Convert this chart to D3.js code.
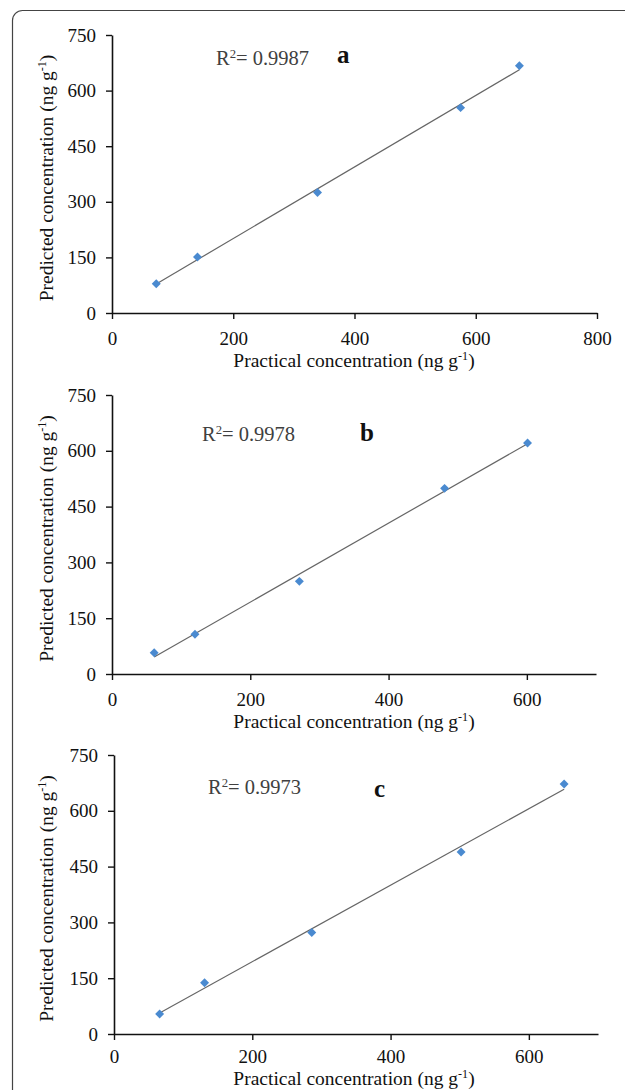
<!DOCTYPE html>
<html>
<head>
<meta charset="utf-8">
<script src="https://cdn.jsdelivr.net/npm/d3@7"></script>
<style>
  body { margin: 0; background: #fff; }
  svg text { font-family: "Liberation Serif", "Tinos", "Times New Roman", "DejaVu Serif", serif !important; }
</style>
</head>
<body>
<div id="chart"></div>
<script>
// values
var practicalA = [73, 141, 339, 575, 672];
var predictedA = [79, 151, 325, 554, 667];
var practicalB = [61, 120, 271, 481, 601];
var predictedB = [57, 107, 249, 499, 621];
var practicalC = [66, 131, 286, 502, 651];
var predictedC = [54, 138, 273, 489, 672];

var yTicks = [0, 150, 300, 450, 600, 750];
var xTicksA = [0, 200, 400, 600, 800];
var xTicksBC = [0, 200, 400, 600];
var r2Labels = ["0.9987", "0.9978", "0.9973"];
var panelLetters = ["a", "b", "c"];

var W = 625, H = 1090;
var serif = '"Liberation Serif", "Times New Roman", serif';

var svg = d3.select("#chart").append("svg")
  .attr("width", W)
  .attr("height", H);

// frame (rounded top-left corner, runs off right and bottom)
svg.append("rect")
  .attr("x", 12.5).attr("y", 10.5)
  .attr("width", 700).attr("height", 1200)
  .attr("rx", 10)
  .attr("fill", "none")
  .attr("stroke", "#444")
  .attr("stroke-width", 1.2);

var panels = [
  {xs: practicalA, ys: predictedA, xMax: 800, xTicks: xTicksA, left: 112, right: 597, top: 35, bottom: 313,
   r2x: 216, r2y: 65, lx: 337, ly: 63, tY: 54, pad: 13},
  {xs: practicalB, ys: predictedB, xMax: 700, xTicks: xTicksBC, left: 112, right: 596, top: 395, bottom: 674,
   r2x: 202, r2y: 441, lx: 360, ly: 441, tY: 54, pad: 13},
  {xs: practicalC, ys: predictedC, xMax: 700, xTicks: xTicksBC, left: 114, right: 598, top: 755, bottom: 1034,
   r2x: 208, r2y: 794, lx: 374, ly: 797, tY: 51, pad: 10}
];

function supLabel(sel, before, sup, after) {
  sel.append("tspan").text(before);
  sel.append("tspan").attr("font-size", "0.62em").attr("dy", "-0.55em").text(sup);
  sel.append("tspan").attr("dy", "0.34em").text(after);
}

function fit(xs, ys) {
  var mx = d3.mean(xs), my = d3.mean(ys);
  var sxy = d3.sum(xs, function(x, i){ return (x - mx) * (ys[i] - my); });
  var sxx = d3.sum(xs, function(x){ return (x - mx) * (x - mx); });
  var b = sxy / sxx;
  return {b: b, a: my - b * mx};
}

panels.forEach(function(p, k) {
  var x = d3.scaleLinear().domain([0, p.xMax]).range([p.left, p.right]);
  var y = d3.scaleLinear().domain([0, 750]).range([p.bottom, p.top]);
  var g = svg.append("g");

  var yAxis = g.append("g")
    .attr("transform", "translate(" + p.left + ",0)")
    .call(d3.axisLeft(y).tickValues(yTicks).tickSize(6).tickPadding(10).tickSizeOuter(0));
  var xAxis = g.append("g")
    .attr("transform", "translate(0," + p.bottom + ")")
    .call(d3.axisBottom(x).tickValues(p.xTicks).tickSize(6).tickPadding(p.pad).tickSizeOuter(0));

  [yAxis, xAxis].forEach(function(a) {
    a.attr("font-family", null).attr("font-size", null);
    a.select(".domain").attr("stroke", "#111").attr("stroke-width", 1.6);
    a.selectAll(".tick line").attr("stroke", "#111").attr("stroke-width", 1.4);
    a.selectAll(".tick text")
      .style("font-family", serif)
      .style("font-size", "19px").attr("fill", "#111");
  });

  // trend line
  var f = fit(p.xs, p.ys);
  var x0 = d3.min(p.xs), x1 = d3.max(p.xs);
  g.append("line")
    .attr("x1", x(x0)).attr("y1", y(f.a + f.b * x0))
    .attr("x2", x(x1)).attr("y2", y(f.a + f.b * x1))
    .attr("stroke", "#666").attr("stroke-width", 1.2);

  // markers
  g.selectAll(".pt").data(p.xs).enter().append("path")
    .attr("class", "pt")
    .attr("d", d3.symbol().type(d3.symbolSquare).size(40))
    .attr("transform", function(d, i){ return "translate(" + x(d) + "," + y(p.ys[i]) + ") rotate(45)"; })
    .attr("fill", "#4a8ad0");

  // axis titles
  var yt = g.append("text")
    .attr("transform", "translate(53," + ((p.top + p.bottom) / 2 + 4) + ") rotate(-90)")
    .attr("text-anchor", "middle")
    .style("font-family", serif).style("font-size", "19.5px").attr("fill", "#111");
  supLabel(yt, "Predicted concentration (ng g", "-1", ")");

  var xt = g.append("text")
    .attr("x", 354).attr("y", p.bottom + p.tY)
    .attr("text-anchor", "middle")
    .style("font-family", serif).style("font-size", "19.5px").attr("fill", "#111");
  supLabel(xt, "Practical concentration (ng g", "-1", ")");

  // R squared and panel letter
  var rt = g.append("text")
    .attr("x", p.r2x).attr("y", p.r2y)
    .style("font-family", serif).style("font-size", "20.5px").attr("fill", "#404040");
  supLabel(rt, "R", "2", "= " + r2Labels[k]);

  g.append("text")
    .attr("x", p.lx).attr("y", p.ly)
    .style("font-family", serif).style("font-size", "25px").attr("font-weight", "bold").attr("fill", "#111")
    .text(panelLetters[k]);
});
</script>
</body>
</html>
